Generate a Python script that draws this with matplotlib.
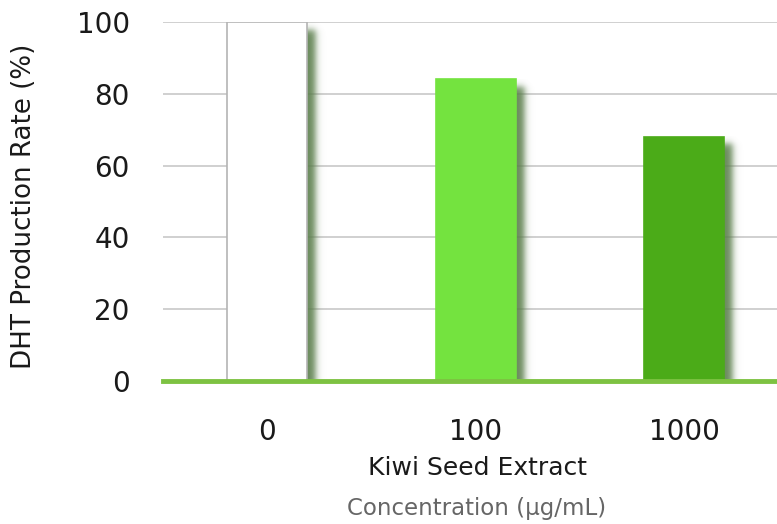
import numpy as np
import matplotlib.pyplot as plt
from matplotlib.colors import to_rgb

categories = ["0", "100", "1000"]
rates = [100, 84, 68]
bar_colors = ["#ffffff", "#74e33f", "#4bab18"]
edge_colors = ["#b4b4b4", "#74e33f", "#4bab18"]
yticks = [0, 20, 40, 60, 80, 100]

fig = plt.figure(figsize=(7.77, 5.24), dpi=100)
ax = fig.add_axes([163 / 777, 1 - 381 / 524, 1 - 163 / 777, 359 / 524])

x = np.arange(len(categories))
width = 0.384

# px per data unit, used to size the drop shadow
pxx = 208.5
pxy = 3.59


def shadow(xc, top):
    x0, x1 = xc - width / 2, xc + width / 2
    dx, dy, blur = 8 / pxx, 7 / pxy, 4.0
    gx = np.linspace(x0, x1 + 22 / pxx, 150)
    gy = np.linspace(0, top, 200)
    ax_ = 0.5 * (1 + np.tanh(((gx - x0 - dx) * pxx) / blur)) * \
        0.5 * (1 - np.tanh(((gx - x1 - dx) * pxx) / blur))
    ay_ = 0.5 * (1 - np.tanh(((gy - (top - dy)) * pxy) / blur))
    a = np.outer(ay_, ax_) * 0.92
    img = np.zeros((len(gy), len(gx), 4))
    img[..., :3] = to_rgb("#5c7f4d")
    img[..., 3] = a
    ax.imshow(img, extent=(gx[0], gx[-1], 0, top), origin="lower",
              aspect="auto", zorder=1, interpolation="bilinear")


for xi, r in zip(x, rates):
    shadow(xi, r)

ax.bar(x, rates, width=width, color=bar_colors, edgecolor=edge_colors,
       linewidth=1.2, zorder=2)
ax.set_xlim(-0.5, 2.446)
ax.set_ylim(0, 100)

ax.set_yticks(yticks)
ax.grid(axis="y", color="#c8c8c8", linewidth=1.2, zorder=0)
ax.set_axisbelow(True)
ax.axhline(0, color="#7dc242", linewidth=3.5, zorder=3, clip_on=False)
for s in ax.spines.values():
    s.set_visible(False)
ax.tick_params(axis="both", length=0, labelsize=20, colors="#1a1a1a")
ax.tick_params(axis="y", pad=24)
ax.tick_params(axis="x", pad=27)
ax.set_xticks(x)
ax.set_xticklabels(categories)

fig.text(24 / 777, 1 - 206 / 524, "DHT Production Rate (%)", rotation=90,
         ha="center", va="center", fontsize=18.8, color="#1a1a1a")
fig.text(477 / 777, 1 - 468 / 524, "Kiwi Seed Extract", ha="center", va="center",
         fontsize=18, color="#1a1a1a")
fig.text(477 / 777, 1 - 508 / 524, "Concentration (µg/mL)", ha="center", va="center",
         fontsize=16.5, color="#666666")

fig.savefig("out.png", dpi=100)
